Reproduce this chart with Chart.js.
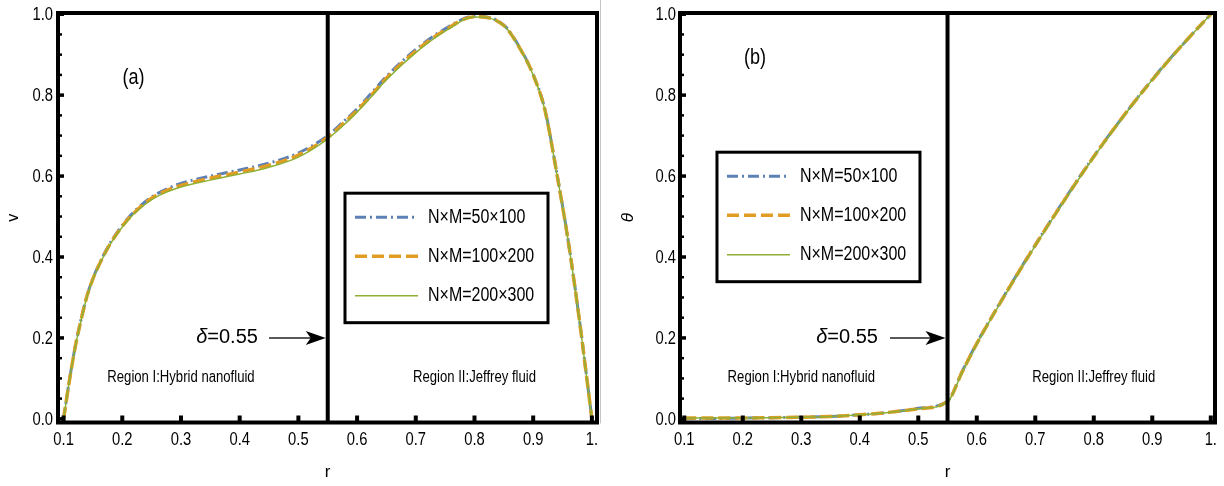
<!DOCTYPE html>
<html><head><meta charset="utf-8">
<script src="https://cdn.jsdelivr.net/npm/chart.js@4"></script>
<style>
html,body{margin:0;padding:0;background:#fff;}
#wrap{position:relative;width:1224px;height:486px;overflow:hidden;}
canvas{position:absolute;top:0;}
</style></head><body>
<div id="wrap"><canvas id="c1" width="612" height="486" style="left:0"></canvas><canvas id="c2" width="612" height="486" style="left:612px"></canvas></div>
<script>
// ---------- data ----------
const seriesLabels = ['N×M=50×100', 'N×M=100×200', 'N×M=200×300'];

const rV = [0.1, 0.11, 0.12, 0.13, 0.14, 0.15, 0.16, 0.17, 0.18, 0.2, 0.22, 0.25, 0.28, 0.3, 0.35, 0.4, 0.45, 0.5, 0.55, 0.575, 0.6, 0.625, 0.65, 0.7, 0.75, 0.8, 0.85, 0.88, 0.9, 0.92, 0.94, 0.96, 0.98, 0.99, 1.0];
const vBlue   = [0, 0.096, 0.18, 0.247, 0.305, 0.347, 0.38, 0.41, 0.436, 0.478, 0.512, 0.548, 0.571, 0.582, 0.6, 0.615, 0.632, 0.657, 0.70, 0.732, 0.766, 0.806, 0.846, 0.913, 0.964, 0.995, 0.973, 0.91, 0.851, 0.764, 0.609, 0.437, 0.231, 0.116, 0];
const vOrange = [0, 0.095, 0.179, 0.246, 0.304, 0.346, 0.379, 0.408, 0.434, 0.476, 0.509, 0.545, 0.567, 0.577, 0.595, 0.61, 0.627, 0.652, 0.696, 0.728, 0.762, 0.801, 0.842, 0.909, 0.961, 0.994, 0.972, 0.909, 0.85, 0.763, 0.608, 0.436, 0.23, 0.115, 0];
const vGreen  = [0, 0.095, 0.178, 0.245, 0.303, 0.345, 0.378, 0.407, 0.433, 0.474, 0.507, 0.542, 0.563, 0.573, 0.59, 0.605, 0.622, 0.647, 0.692, 0.723, 0.758, 0.797, 0.838, 0.905, 0.958, 0.993, 0.972, 0.909, 0.85, 0.763, 0.608, 0.436, 0.23, 0.115, 0];

const rT = [0.1, 0.15, 0.2, 0.25, 0.3, 0.35, 0.4, 0.45, 0.5, 0.55, 0.575, 0.6, 0.65, 0.7, 0.75, 0.8, 0.85, 0.9, 0.95, 1.0];
const thBlue   = [0.001, 0.001, 0.002, 0.003, 0.004, 0.006, 0.01, 0.016, 0.026, 0.044, 0.117, 0.187, 0.312, 0.43, 0.542, 0.649, 0.747, 0.839, 0.922, 1.0];
const thOrange = [0.002, 0.002, 0.002, 0.003, 0.004, 0.006, 0.01, 0.016, 0.025, 0.043, 0.116, 0.186, 0.311, 0.429, 0.541, 0.648, 0.747, 0.838, 0.922, 1.0];
const thGreen  = [0.002, 0.002, 0.002, 0.003, 0.004, 0.006, 0.01, 0.016, 0.025, 0.042, 0.115, 0.185, 0.31, 0.428, 0.54, 0.647, 0.746, 0.838, 0.922, 1.0];

const xTicks = [0.1, 0.2, 0.3, 0.4, 0.5, 0.6, 0.7, 0.8, 0.9, 1.0];
const xTickLabels = ['0.1', '0.2', '0.3', '0.4', '0.5', '0.6', '0.7', '0.8', '0.9', '1.'];
const yTicks = [0, 0.2, 0.4, 0.6, 0.8, 1.0];
const yTickLabels = ['0.0', '0.2', '0.4', '0.6', '0.8', '1.0'];
const yMinorTicks = [0.05, 0.1, 0.15, 0.25, 0.3, 0.35, 0.45, 0.5, 0.55, 0.65, 0.7, 0.75, 0.85, 0.9, 0.95];
const deltaValue = 0.55;
const deltaLabel = ['δ', '=0.55'];
const regionLabels = ['Region I:Hybrid nanofluid', 'Region II:Jeffrey fluid'];

// ---------- styling ----------
const COLORS = ['#5E81B5', '#E19C24', '#8FB032'];
const WIDTHS = [3, 3.5, 1.5];
const DASHES = [[11, 4, 2, 4], [12, 5], []];
const BASE = '"Liberation Sans", Arial, Helvetica, sans-serif';

function nText(ctx, str, px, py, size, align, style) {
  ctx.save();
  ctx.translate(px, py);
  ctx.scale(0.82, 1);
  ctx.font = (style || '') + ' ' + size + 'px ' + BASE;
  ctx.textAlign = align;
  ctx.textBaseline = 'middle';
  ctx.fillStyle = '#000';
  ctx.fillText(str, 0, 0);
  ctx.restore();
}

function seg(ctx, x1, y1, x2, y2) { ctx.beginPath(); ctx.moveTo(x1, y1); ctx.lineTo(x2, y2); ctx.stroke(); }

const decor = {
  id: 'decor',
  afterDatasetsDraw(chart, args, o) {
    const { ctx, chartArea: a, scales: { x, y } } = chart;
    ctx.save();
    ctx.strokeStyle = '#000';
    ctx.fillStyle = '#000';
    ctx.lineCap = 'butt';
    // interface line
    const xd = x.getPixelForValue(deltaValue);
    ctx.lineWidth = 4;
    seg(ctx, xd, a.top, xd, a.bottom);
    // inward ticks
    ctx.lineWidth = 3.5;
    y.ticks.forEach(t => { const py = y.getPixelForValue(t.value); seg(ctx, a.left, py, a.left + 6, py); });
    ctx.lineWidth = 2.5;
    yMinorTicks.forEach(v => { const py = y.getPixelForValue(v); seg(ctx, a.left, py, a.left + 4, py); });
    ctx.lineWidth = 4;
    x.ticks.forEach(t => { const px = x.getPixelForValue(t.value); seg(ctx, px, a.bottom, px, a.bottom - 7); });
    // frame
    ctx.lineWidth = 4;
    ctx.strokeRect(a.left, a.top, a.right - a.left, a.bottom - a.top);
    // tick labels (condensed, like the original)
    x.ticks.forEach((t, i) => nText(ctx, xTickLabels[i], x.getPixelForValue(t.value), a.bottom + 18, 18, 'center'));
    y.ticks.forEach((t, i) => nText(ctx, yTickLabels[i], a.left - o.yPad, y.getPixelForValue(t.value) + 1, 18, 'right'));
    // arrow + delta label
    const ay = y.getPixelForValue(0.2);
    const ax0 = x.getPixelForValue(o.arrowFrom);
    const tip = xd - 2;
    ctx.strokeStyle = '#222';
    ctx.lineWidth = 1.5;
    seg(ctx, ax0, ay, tip - 14, ay);
    ctx.fillStyle = '#000';
    ctx.beginPath();
    ctx.moveTo(tip, ay);
    ctx.lineTo(tip - 20, ay - 7);
    ctx.lineTo(tip - 15, ay);
    ctx.lineTo(tip - 20, ay + 7);
    ctx.closePath();
    ctx.fill();
    ctx.font = 'italic 20px ' + BASE;
    const w1 = ctx.measureText(deltaLabel[0]).width;
    ctx.font = '20px ' + BASE;
    const w2 = ctx.measureText(deltaLabel[1]).width;
    const xEnd = x.getPixelForValue(o.deltaTextEnd);
    ctx.textBaseline = 'middle';
    ctx.textAlign = 'left';
    ctx.font = 'italic 20px ' + BASE;
    ctx.fillText(deltaLabel[0], xEnd - w1 - w2, ay);
    ctx.font = '20px ' + BASE;
    ctx.fillText(deltaLabel[1], xEnd - w2, ay);
    // region labels
    nText(ctx, regionLabels[0], x.getPixelForValue(0.3), y.getPixelForValue(o.regionV), 16, 'center');
    nText(ctx, regionLabels[1], x.getPixelForValue(0.8), y.getPixelForValue(o.regionV), 16, 'center');
    // panel label
    nText(ctx, o.panel.text, x.getPixelForValue(o.panel.r), y.getPixelForValue(o.panel.v), 22, 'center');
    // legend
    const lx = x.getPixelForValue(o.legend.r), ly = y.getPixelForValue(o.legend.v);
    const bw = 203, bh = 129.5;
    ctx.fillStyle = '#fff';
    ctx.fillRect(lx, ly, bw, bh);
    ctx.strokeStyle = '#000';
    ctx.lineWidth = 3;
    ctx.strokeRect(lx, ly, bw, bh);
    const rows = [24, 63, 102.5];
    chart.data.datasets.forEach((ds, i) => {
      const ry = ly + rows[i];
      ctx.save();
      ctx.strokeStyle = ds.borderColor;
      ctx.lineWidth = ds.borderWidth;
      ctx.setLineDash(ds.borderDash);
      seg(ctx, lx + 10, ry, lx + 73, ry);
      ctx.restore();
      nText(ctx, ds.label, lx + 83, ry, 19.5, 'left');
    });
    // image border artefact of the left panel
    if (o.edgeLine) {
      ctx.strokeStyle = '#c4c4c4';
      ctx.lineWidth = 1;
      seg(ctx, a.right + 3.5, 0, a.right + 3.5, a.bottom + 1);
    }
    ctx.restore();
  }
};

function makeChart(id, cfg) {
  const datasets = cfg.series.map((vals, i) => ({
    label: seriesLabels[i],
    data: cfg.r.map((r, k) => ({ x: r, y: vals[k] })),
    borderColor: COLORS[i],
    borderWidth: WIDTHS[i],
    borderDash: DASHES[i],
    pointRadius: 0,
    fill: false,
    cubicInterpolationMode: 'monotone',
    order: 3 - i
  }));
  return new Chart(document.getElementById(id), {
    type: 'line',
    data: { datasets },
    plugins: [decor],
    options: {
      responsive: false,
      devicePixelRatio: 1,
      animation: false,
      events: [],
      layout: { padding: { left: 0, right: cfg.padRight, top: 13, bottom: 0 } },
      plugins: { legend: { display: false }, tooltip: { enabled: false }, decor: cfg.decor },
      scales: {
        x: {
          type: 'linear', min: cfg.xMin, max: cfg.xMax,
          grid: { display: false, drawTicks: false }, border: { display: false },
          afterBuildTicks: s => { s.ticks = xTicks.map(v => ({ value: v })); },
          afterFit: s => { s.height = 63.5; s.paddingLeft = 0; s.paddingRight = 0; },
          ticks: { display: false, autoSkip: false, maxRotation: 0 },
          title: { display: true, text: 'r', color: '#000', font: { family: BASE, size: 17 }, padding: { top: 0, bottom: 3 } }
        },
        y: {
          type: 'linear', min: -0.009, max: 1.003,
          grid: { display: false, drawTicks: false }, border: { display: false },
          afterBuildTicks: s => { s.ticks = yTicks.map(v => ({ value: v })); },
          afterFit: s => { s.width = cfg.yWidth; s.paddingTop = 0; s.paddingBottom = 0; },
          ticks: { display: false },
          title: { display: true, text: cfg.yTitle, color: '#000',
                   font: { family: BASE, size: cfg.yTitleSize, style: cfg.yTitleStyle }, padding: { top: cfg.yTitlePad, bottom: 0 } }
        }
      }
    }
  });
}

makeChart('c1', {
  r: rV, series: [vBlue, vOrange, vGreen],
  xMin: 0.0905, xMax: 1.0087, yWidth: 58, padRight: 15,
  yTitle: 'v', yTitleStyle: 'normal', yTitleSize: 16, yTitlePad: 4,
  decor: { yPad: 5, arrowFrom: 0.45, deltaTextEnd: 0.431, regionV: 0.103,
           panel: { text: '(a)', r: 0.219, v: 0.842 },
           legend: { r: 0.5794, v: 0.5577 }, edgeLine: true }
});
makeChart('c2', {
  r: rT, series: [thBlue, thOrange, thGreen],
  xMin: 0.0927, xMax: 1.0072, yWidth: 68, padRight: 9,
  yTitle: 'θ', yTitleStyle: 'italic', yTitleSize: 17, yTitlePad: 6,
  decor: { yPad: 4, arrowFrom: 0.4516, deltaTextEnd: 0.431, regionV: 0.103,
           panel: { text: '(b)', r: 0.221, v: 0.891 },
           legend: { r: 0.1559, v: 0.659 }, edgeLine: false }
});
</script>
</body></html>
